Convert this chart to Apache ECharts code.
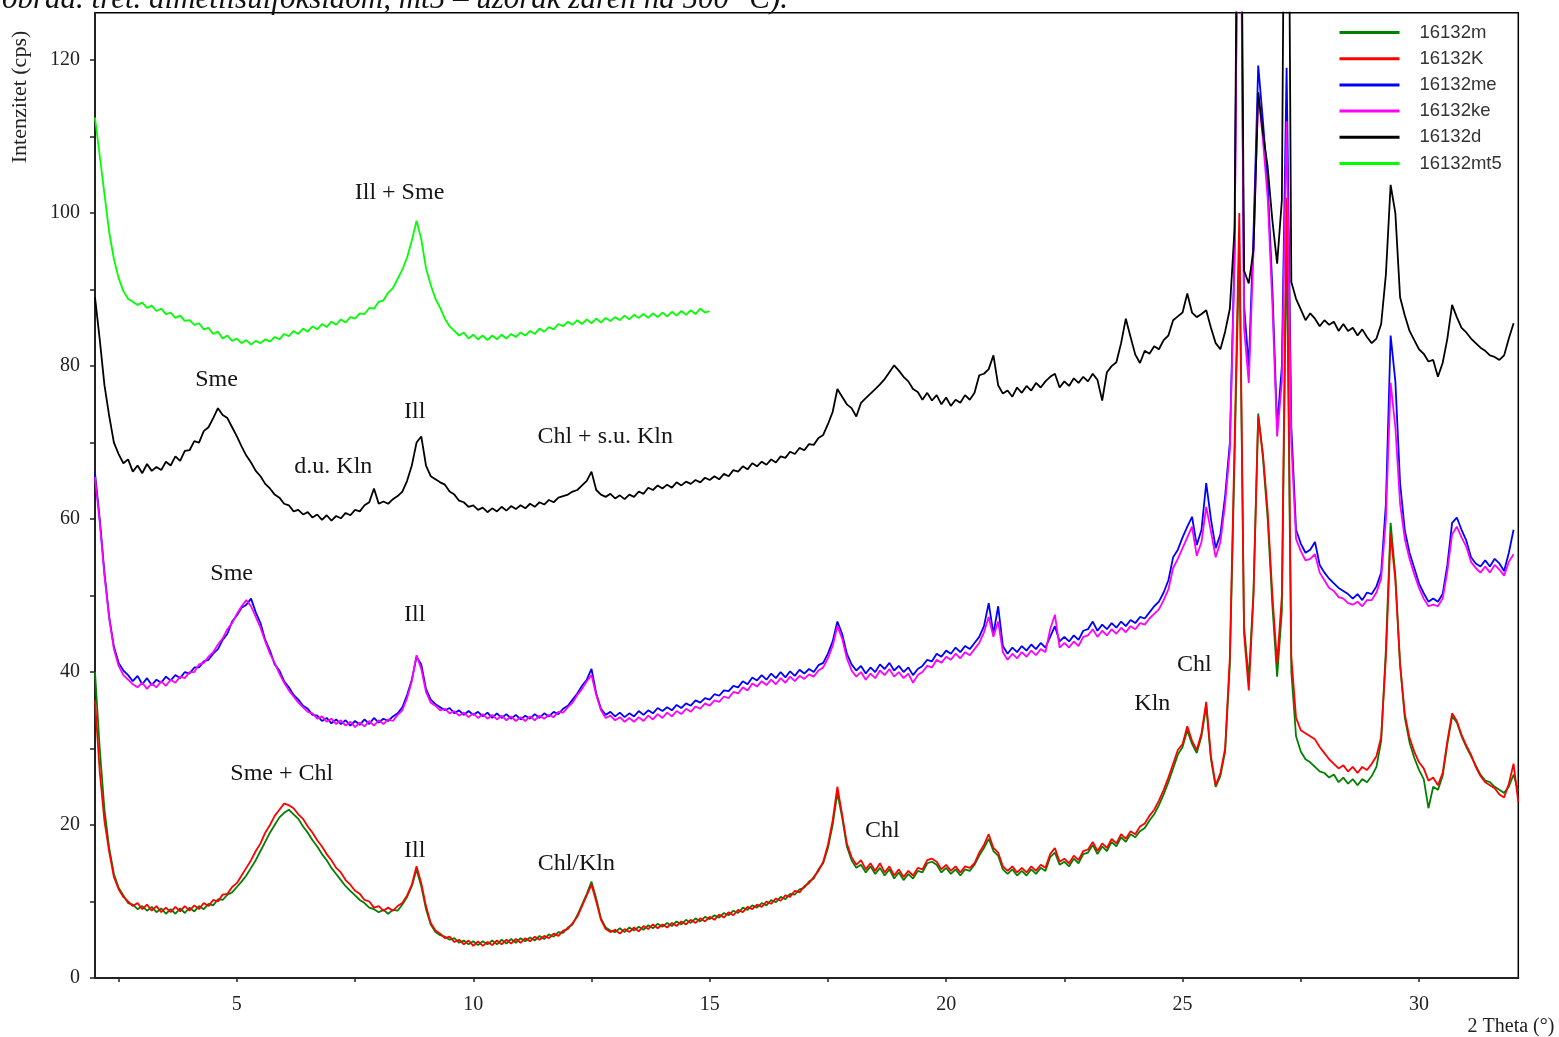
<!DOCTYPE html>
<html><head><meta charset="utf-8">
<script src="https://cdn.jsdelivr.net/npm/echarts@6/dist/echarts.min.js"></script>
<style>html,body{margin:0;padding:0;background:#fff}#c{width:1559px;height:1037px}</style>
</head><body><div id="c"></div>
<script>
// 2-theta sampling: start 2.0, step 0.1
const thetaStart = 2.0;
const thetaStep = 0.1;

const seriesNames = ['16132m', '16132K', '16132me', '16132ke', '16132d', '16132mt5'];
const seriesColors = ['#008000', '#ff0000', '#0000ff', '#ff00ff', '#000000', '#00ff00'];

const xTickValues = [2.5, 5, 7.5, 10, 12.5, 15, 17.5, 20, 22.5, 25, 27.5, 30];
const xLabelValues = [5, 10, 15, 20, 25, 30];
const yTickValues = [0, 10, 20, 30, 40, 50, 60, 70, 80, 90, 100, 110, 120];
const yLabelValues = [0, 20, 40, 60, 80, 100, 120];

// 16132m (dark green)
const s16132m = [
 40.0,30.0,22.0,17.0,13.6,11.8,10.8,9.8,9.6,9.0,
 9.4,8.8,9.3,8.6,9.1,8.4,9.0,8.4,9.1,8.5,
 9.2,8.7,9.4,9.0,9.7,9.5,10.3,10.2,10.9,11.2,
 11.9,12.6,13.4,14.4,15.4,16.6,17.8,19.0,20.0,21.0,
 21.6,22.0,21.4,20.8,19.8,19.0,18.0,17.2,16.2,15.4,
 14.4,13.6,12.8,12.0,11.4,10.8,10.2,9.8,9.2,9.0,
 8.6,8.9,8.4,8.9,8.8,9.6,10.6,12.0,14.2,12.0,
 9.0,7.0,6.0,5.6,5.4,5.0,5.2,4.6,4.9,4.4,
 4.8,4.3,4.8,4.4,4.9,4.4,5.0,4.5,5.1,4.6,
 5.2,4.8,5.3,4.9,5.5,5.1,5.7,5.4,6.0,5.9,
 6.6,7.0,8.2,9.6,11.0,12.6,10.4,7.8,6.6,6.2,
 6.0,6.5,6.0,6.6,6.2,6.7,6.3,6.9,6.5,7.1,
 6.7,7.2,6.8,7.4,7.0,7.6,7.2,7.8,7.4,8.0,
 7.7,8.2,7.9,8.5,8.2,8.8,8.5,9.2,8.9,9.5,
 9.2,9.8,9.5,10.2,9.9,10.6,10.3,11.0,10.9,11.6,
 11.8,12.6,13.0,14.2,15.0,17.0,20.0,24.2,21.0,17.2,
 15.4,14.4,14.8,13.8,14.6,13.6,14.4,13.4,14.2,13.0,
 13.8,12.8,13.6,13.0,14.0,13.8,15.0,15.2,14.8,13.8,
 14.4,13.6,14.2,13.4,14.2,14.0,14.8,16.0,17.0,18.2,
 16.6,16.0,14.2,13.6,14.2,13.4,14.0,13.4,14.2,13.6,
 14.4,14.0,15.8,16.4,14.8,15.2,14.6,15.6,15.0,16.2,
 16.4,17.4,16.2,17.2,16.6,17.8,17.2,18.4,17.8,18.8,
 18.4,19.2,19.6,20.6,21.4,22.6,24.0,25.6,27.4,29.2,
 30.2,32.4,30.6,29.4,31.6,35.6,28.6,25.0,26.4,29.6,
 41.0,68.0,96.0,46.0,39.0,50.6,73.8,68.0,60.0,48.6,
 39.4,48.0,98.0,40.0,31.6,29.6,28.6,28.2,27.6,27.0,
 26.8,26.2,26.6,25.6,26.2,25.4,26.0,25.2,26.0,25.6,
 26.4,27.6,31.0,43.0,59.5,52.6,41.0,34.0,30.8,28.8,
 27.2,26.0,22.2,25.0,24.6,26.4,30.6,34.2,33.4,31.6,
 30.2,29.0,27.8,26.6,25.8,25.6,25.0,24.6,24.2,25.0,
 26.6,24.4
];

// 16132K (red)
const s16132K = [
 36.3,27.0,20.5,16.5,13.2,11.6,10.6,10.0,9.4,9.8,
 9.0,9.6,8.8,9.4,8.6,9.2,8.6,9.3,8.7,9.4,
 8.8,9.5,9.0,9.8,9.4,10.2,10.0,10.9,11.0,11.9,
 12.4,13.4,14.4,15.4,16.6,17.6,19.0,20.0,21.2,22.0,
 22.8,22.6,22.2,21.4,20.8,19.8,19.0,18.0,17.2,16.2,
 15.4,14.4,13.8,12.8,12.2,11.4,11.0,10.2,10.0,9.2,
 9.4,8.8,9.2,8.8,9.4,9.8,10.8,12.2,14.6,12.4,
 9.4,7.2,6.2,5.8,5.2,5.4,4.7,5.0,4.4,4.9,
 4.2,4.8,4.2,4.7,4.3,4.9,4.4,5.0,4.5,5.1,
 4.6,5.2,4.8,5.4,5.0,5.5,5.2,5.8,5.5,6.2,
 6.4,7.2,8.0,9.4,10.8,12.2,10.0,7.6,6.4,6.0,
 6.3,5.8,6.4,6.0,6.6,6.1,6.8,6.4,7.0,6.5,
 7.0,6.6,7.2,6.8,7.4,7.0,7.6,7.2,7.8,7.4,
 8.0,7.6,8.3,7.9,8.6,8.2,8.9,8.6,9.3,9.0,
 9.6,9.3,10.0,9.7,10.4,10.1,10.8,10.6,11.4,11.2,
 12.0,12.4,13.2,14.0,15.2,17.4,20.6,25.0,21.4,17.6,
 15.8,14.8,15.4,14.2,15.0,14.0,15.0,13.8,14.6,13.4,
 14.2,13.2,14.0,13.4,14.4,14.2,15.4,15.6,15.2,14.2,
 14.8,14.0,14.6,13.8,14.6,14.4,15.0,16.4,17.4,18.8,
 17.0,16.4,14.6,14.0,14.6,13.8,14.4,13.8,14.6,14.0,
 14.8,14.4,16.2,17.0,15.2,15.6,15.0,16.0,15.4,16.6,
 16.8,17.8,16.6,17.6,17.0,18.2,17.6,18.8,18.2,19.2,
 18.8,19.8,20.2,21.2,22.0,23.2,24.6,26.2,28.0,29.8,
 30.6,32.9,31.0,29.8,32.0,36.1,29.0,25.2,26.8,30.0,
 42.0,70.0,100.0,45.0,37.6,50.0,73.4,68.5,61.0,50.0,
 41.1,50.0,102.0,42.0,34.0,32.4,32.0,31.6,31.2,30.2,
 29.4,28.6,28.0,27.4,27.8,27.0,27.6,26.8,27.6,27.2,
 28.0,29.0,31.5,42.0,58.1,52.0,41.0,34.5,31.4,29.6,
 28.2,27.4,25.8,26.2,25.2,26.8,31.0,34.6,33.6,31.8,
 30.4,29.2,27.6,26.4,25.6,25.2,24.8,24.0,23.6,25.4,
 28.0,23.0
];

// 16132me (blue)
const s16132me = [
 66.0,60.0,53.0,47.2,43.3,41.2,40.2,39.6,38.8,39.5,
 38.4,39.2,38.3,39.0,38.6,39.4,38.9,39.6,39.2,40.0,
 39.8,40.6,40.6,41.4,41.6,42.4,43.0,44.2,45.0,46.6,
 47.4,48.4,48.8,49.6,47.8,46.4,44.2,42.8,41.0,40.2,
 38.8,38.0,37.0,36.4,35.6,35.2,34.4,34.3,33.6,34.0,
 33.3,33.8,33.2,33.7,33.0,33.6,33.1,33.8,33.2,34.0,
 33.4,33.9,33.6,34.2,34.6,35.4,37.0,39.0,42.0,41.0,
 37.8,36.4,35.8,35.4,35.0,35.3,34.6,35.0,34.4,34.9,
 34.4,34.8,34.2,34.7,34.0,34.6,34.0,34.5,33.9,34.4,
 33.8,34.3,33.9,34.5,34.0,34.6,34.2,34.8,34.5,35.2,
 35.6,36.4,37.2,38.2,39.0,40.4,37.2,35.2,34.4,34.8,
 34.2,34.7,34.1,34.6,34.2,34.9,34.4,35.0,34.6,35.3,
 34.9,35.4,35.0,35.7,35.3,35.9,35.6,36.3,36.0,36.6,
 36.4,37.1,36.9,37.6,37.5,38.2,38.0,38.8,38.4,39.3,
 38.9,39.6,39.0,39.8,39.2,40.0,39.3,40.1,39.5,40.3,
 39.8,40.4,40.0,40.9,41.2,42.4,44.0,46.6,45.0,42.4,
 41.0,40.2,40.8,39.8,40.6,40.0,41.0,40.4,41.2,40.2,
 40.8,40.0,40.6,39.6,40.4,40.8,41.6,41.4,42.4,42.0,
 42.8,42.4,43.2,42.6,43.4,43.0,43.8,44.6,46.0,49.0,
 45.0,48.6,43.4,42.4,43.2,42.6,43.4,42.8,43.6,43.0,
 43.8,43.2,44.6,46.0,44.0,44.6,44.0,44.8,44.2,45.4,
 45.6,46.6,45.4,46.2,45.6,46.4,45.8,46.6,46.0,46.8,
 46.4,47.2,47.0,47.8,48.6,49.2,50.4,52.0,55.0,56.0,
 57.6,59.0,60.3,56.6,58.6,64.7,60.0,56.2,58.0,63.0,
 70.0,95.0,170.0,88.0,79.9,97.4,119.3,112.0,104.0,90.0,
 72.0,80.0,119.0,72.0,58.6,56.8,55.6,56.0,57.0,54.0,
 53.0,52.2,51.6,51.0,50.6,50.2,49.6,50.2,49.4,50.4,
 50.2,51.2,53.0,62.0,84.0,78.0,64.7,58.5,55.6,53.6,
 51.6,50.3,49.2,49.6,49.2,50.2,54.0,59.5,60.2,58.6,
 57.2,55.0,54.2,53.8,54.6,53.8,54.8,54.2,53.2,55.6,
 58.6
];

// 16132ke (magenta)
const s16132ke = [
 65.5,59.6,52.6,47.0,43.0,40.8,39.6,39.0,38.4,38.0,
 38.6,37.8,38.5,38.0,38.8,38.2,39.0,38.6,39.4,39.2,
 40.0,40.0,41.0,41.2,42.0,42.6,43.6,44.4,45.6,46.4,
 47.6,48.6,49.4,48.6,47.2,45.8,44.0,42.4,41.2,39.8,
 38.6,37.6,36.8,36.0,35.4,34.8,34.6,33.9,34.2,33.5,
 33.9,33.2,33.7,33.0,33.5,32.8,33.4,32.9,33.6,33.0,
 33.7,33.2,33.8,33.6,34.4,35.0,36.6,38.8,42.2,40.4,
 37.4,36.0,35.6,35.0,35.2,34.6,34.9,34.3,34.7,34.1,
 34.6,34.0,34.5,33.9,34.4,33.8,34.3,33.7,34.2,33.6,
 34.1,33.6,34.2,33.7,34.3,33.9,34.4,34.1,34.8,34.7,
 35.4,36.0,37.0,37.8,38.8,39.6,37.0,35.0,34.0,34.3,
 33.7,34.1,33.5,34.0,33.5,34.1,33.6,34.3,33.8,34.5,
 34.0,34.7,34.2,34.9,34.5,35.2,34.8,35.5,35.2,35.9,
 35.6,36.3,36.1,36.8,36.6,37.4,37.2,38.0,37.6,38.5,
 38.1,38.8,38.3,39.0,38.4,39.2,38.6,39.4,38.8,39.5,
 39.1,39.7,39.4,40.2,40.6,41.8,43.4,46.0,44.4,41.8,
 40.2,39.4,40.0,39.0,39.8,39.2,40.2,39.6,40.4,39.4,
 40.0,39.2,39.8,38.6,39.6,40.0,40.8,40.6,41.6,41.2,
 42.0,41.6,42.4,41.8,42.6,42.2,43.0,43.8,45.2,47.2,
 44.6,46.6,42.6,41.6,42.4,41.8,42.6,42.0,42.8,42.2,
 43.0,42.6,45.6,47.5,43.2,43.8,43.2,44.0,43.4,44.6,
 44.8,45.6,44.6,45.4,44.8,45.6,45.0,45.8,45.2,46.0,
 45.6,46.4,46.2,47.0,47.6,48.2,49.4,50.8,53.6,54.8,
 56.2,57.6,59.0,55.2,57.0,61.6,58.4,55.0,57.0,62.0,
 69.0,94.0,168.0,85.0,77.8,95.0,115.8,109.5,102.0,88.0,
 70.8,78.0,112.0,70.0,57.4,55.8,54.6,54.8,55.4,53.0,
 52.0,51.0,50.6,49.8,49.6,49.0,48.8,49.2,48.6,49.4,
 49.4,50.4,52.2,60.0,77.8,72.0,62.0,57.4,54.8,52.8,
 51.0,49.6,48.6,48.8,48.6,49.6,53.2,58.0,59.0,57.6,
 56.4,54.4,53.6,53.0,53.8,53.0,54.0,53.4,52.6,54.4,
 55.4
];

// 16132d (black)
const s16132d = [
 89.0,83.5,77.5,73.5,70.0,68.5,67.3,67.8,66.2,67.0,
 66.0,67.2,66.3,66.8,66.4,67.5,67.0,68.2,67.6,68.9,
 69.0,70.2,70.0,71.5,72.0,73.2,74.5,73.6,73.2,72.0,
 70.8,69.5,68.3,67.4,66.3,65.6,64.6,64.0,63.2,62.8,
 62.0,61.8,61.0,61.2,60.6,60.9,60.2,60.6,59.9,60.5,
 59.8,60.4,60.1,60.8,60.5,61.2,61.0,61.8,62.2,64.0,
 62.0,62.3,62.0,62.6,63.0,63.6,65.0,67.0,70.0,70.8,
 67.0,65.6,65.2,64.8,64.5,63.6,63.2,62.4,62.2,61.6,
 61.8,61.2,61.5,60.9,61.4,61.0,61.6,61.1,61.7,61.3,
 61.8,61.4,62.0,61.6,62.2,61.9,62.5,62.2,62.8,63.0,
 63.2,63.6,63.8,64.4,65.0,66.2,63.8,63.2,62.9,63.3,
 62.7,63.1,62.6,63.2,62.9,63.6,63.3,64.1,63.8,64.4,
 64.0,64.5,64.1,64.8,64.4,64.9,64.6,65.1,64.8,65.4,
 65.1,65.6,65.2,65.9,65.6,66.4,66.2,66.9,66.5,67.3,
 66.9,67.5,67.1,67.8,67.4,68.2,68.0,68.8,68.5,69.3,
 69.0,69.8,69.7,70.6,71.0,72.4,74.0,77.0,76.0,75.0,
 74.5,73.4,75.2,75.8,76.4,77.0,77.6,78.3,79.2,80.1,
 79.4,78.6,78.0,77.0,76.6,75.6,76.5,75.5,76.2,75.0,
 75.9,74.8,75.6,75.2,76.2,75.6,76.5,78.8,79.0,79.6,
 81.4,77.5,76.4,76.8,76.0,77.2,76.5,77.4,76.8,77.8,
 77.2,78.0,78.6,79.0,77.2,78.0,77.4,78.4,77.8,78.6,
 78.0,79.0,78.2,75.5,79.2,80.0,80.5,83.0,86.2,83.8,
 81.5,80.4,82.0,81.6,82.6,82.2,83.4,84.0,86.0,86.5,
 87.0,89.5,87.0,86.4,86.8,87.3,85.0,83.0,82.2,84.5,
 87.5,98.0,180.0,92.5,90.8,95.2,115.8,110.5,106.0,99.0,
 93.4,101.7,190.0,91.0,88.8,87.4,86.0,86.9,86.2,85.2,
 86.0,85.4,85.8,84.6,85.5,84.6,85.0,84.0,84.8,83.8,
 83.0,83.6,85.5,92.0,103.7,100.0,89.0,86.6,84.6,83.4,
 82.2,81.6,80.6,80.8,78.6,80.4,83.6,88.0,86.4,85.0,
 84.4,83.6,83.0,82.4,82.0,81.4,81.2,80.8,81.4,83.6,
 85.6
];

// 16132mt5 (light green), 2.0 - 15.0
const s16132mt5 = [
 112.5,107.5,102.5,97.5,94.0,91.5,89.8,88.8,88.4,88.0,
 88.3,87.6,87.9,87.2,87.5,86.8,87.0,86.3,86.6,85.9,
 86.0,85.4,85.6,84.8,85.0,84.2,84.5,83.6,84.0,83.3,
 83.6,83.0,83.4,82.8,83.3,83.0,83.5,83.2,83.8,83.5,
 84.2,83.9,84.6,84.2,84.9,84.5,85.2,84.8,85.5,85.1,
 85.8,85.4,86.1,85.7,86.4,86.2,86.9,86.8,87.6,87.5,
 88.4,88.6,89.6,90.2,91.4,92.6,94.2,96.4,99.0,96.6,
 92.8,90.6,88.8,87.6,86.2,85.2,84.6,84.0,84.4,83.6,
 84.1,83.5,84.0,83.4,84.0,83.5,84.1,83.6,84.2,83.8,
 84.4,84.0,84.6,84.2,84.9,84.5,85.1,84.8,85.5,85.2,
 85.8,85.4,86.0,85.5,86.1,85.6,86.2,85.7,86.3,85.9,
 86.4,86.0,86.6,86.1,86.7,86.3,86.8,86.3,86.9,86.4,
 87.0,86.5,87.1,86.6,87.2,86.7,87.3,86.8,87.5,87.0,
 87.2
];

// peak annotations: [text, 2theta, intensity]
const annotations = [
 ['Ill + Sme', 8.44, 102.7],
 ['Sme', 4.57, 78.2],
 ['Ill', 8.76, 74.1],
 ['d.u. Kln', 7.04, 66.8],
 ['Chl + s.u. Kln', 12.79, 70.8],
 ['Sme', 4.89, 52.9],
 ['Ill', 8.76, 47.5],
 ['Sme + Chl', 5.95, 26.7],
 ['Ill', 8.76, 16.7],
 ['Chl/Kln', 12.18, 14.9],
 ['Chl', 18.65, 19.2],
 ['Chl', 25.25, 41.0],
 ['Kln', 24.36, 35.8]
];

const captionText = 'obrađ. tret. dimetilsulfoksidom, mt5 – uzorak žaren na 500 °C).';
const yAxisTitle = 'Intenzitet (cps)';
const xAxisTitle = '2 Theta (°)';

const allData = [s16132m, s16132K, s16132me, s16132ke, s16132d, s16132mt5];
function toPairs(arr) {
  return arr.map((v, i) => [Math.round((thetaStart + i * thetaStep) * 100) / 100, v]);
}

const SERIF = '"Liberation Serif", "Times New Roman", serif';
const chart = echarts.init(document.getElementById('c'), null, { renderer: 'canvas', width: 1559, height: 1037 });

chart.setOption({
  animation: false,
  backgroundColor: '#ffffff',
  grid: { left: 95, right: 40.7, top: 12.7, bottom: 59, show: true, borderColor: '#000', borderWidth: 1.5, backgroundColor: 'transparent' },
  legend: {
    data: seriesNames,
    orient: 'vertical',
    left: 1338, top: 23,
    itemWidth: 60, itemHeight: 18, itemGap: 7.2,
    padding: 0,
    lineStyle: { width: 3 },
    itemStyle: { opacity: 0 },
    textStyle: { fontFamily: '"Liberation Sans", Arial, sans-serif', fontSize: 18.5, color: '#333', padding: [0, 0, 0, 15] }
  },
  xAxis: {
    type: 'value', min: 2, max: 32.1,
    axisLine: { show: true, onZero: false, lineStyle: { color: '#222', width: 2 } },
    axisTick: { show: true, customValues: xTickValues, length: 4, lineStyle: { color: '#222', width: 1.5 } },
    axisLabel: { customValues: xLabelValues, fontFamily: SERIF, fontSize: 20, color: '#222', margin: 17 },
    splitLine: { show: false }
  },
  yAxis: {
    type: 'value', min: 0, max: 126.2,
    axisLine: { show: true, onZero: false, lineStyle: { color: '#222', width: 2 } },
    axisTick: { show: true, customValues: yTickValues, length: 5, lineStyle: { color: '#222', width: 1.5 } },
    axisLabel: { customValues: yLabelValues, fontFamily: SERIF, fontSize: 20, color: '#222', margin: 15 },
    splitLine: { show: false }
  },
  series: seriesNames.map((name, k) => ({
    name: name,
    type: 'line',
    data: toPairs(allData[k]),
    symbol: 'none',
    showSymbol: false,
    clip: true,
    color: seriesColors[k],
    lineStyle: { color: seriesColors[k], width: 1.8 },
    z: 2 + k
  }))
});

const gfx = annotations.map(a => {
  const p = chart.convertToPixel({ gridIndex: 0 }, [a[1], a[2]]);
  return {
    type: 'text', x: p[0], y: p[1], z: 20,
    style: { text: a[0], font: '24px ' + SERIF, fill: '#151515', align: 'center', verticalAlign: 'middle' }
  };
});
gfx.push({
  type: 'text', x: 20, y: 97, rotation: Math.PI / 2, z: 20,
  style: { text: yAxisTitle, font: '22px ' + SERIF, fill: '#222', align: 'center', verticalAlign: 'middle' }
});
gfx.push({
  type: 'text', x: 1511, y: 1027, z: 20,
  style: { text: xAxisTitle, font: '20px ' + SERIF, fill: '#222', align: 'center', verticalAlign: 'middle' }
});
gfx.push({
  type: 'text', x: 788, y: 15, z: 20,
  style: { text: captionText, font: 'italic 31px ' + SERIF, fill: '#111', align: 'right', verticalAlign: 'bottom' }
});
chart.setOption({ graphic: gfx });
</script>
</body></html>
